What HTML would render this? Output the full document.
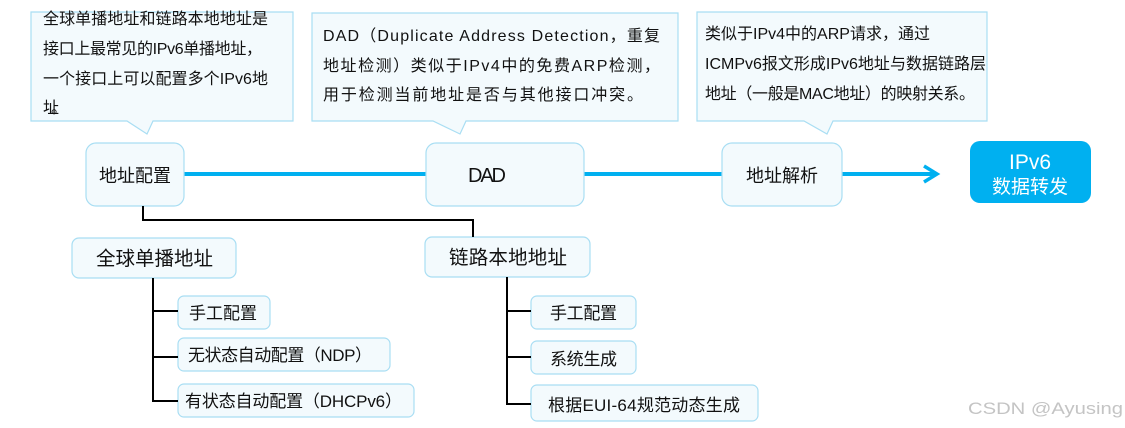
<!DOCTYPE html>
<html><head><meta charset="utf-8"><style>
html,body{margin:0;padding:0;background:#fff;}
svg{display:block;}
text{font-family:"Liberation Sans","Noto Sans CJK SC",sans-serif;fill:#111;}
</style></head><body>
<svg width="1125" height="428" viewBox="0 0 1125 428" xmlns="http://www.w3.org/2000/svg">
<g fill="#f3fafd" stroke="#a9def3" stroke-width="1.2">
<path d="M31 12 H293 V121 H153 L147 134 L127 121 H31 Z"/>
<path d="M312 13 H678 V121 H466 L460 134 L433 121 H312 Z"/>
<path d="M697 12 H987 V121 H833 L827 134 L804 121 H697 Z"/>
</g>
<g font-size="16" lengthAdjust="spacingAndGlyphs">
<text x="43" y="24" textLength="225">全球单播地址和链路本地地址是</text>
<text x="43" y="54" textLength="219">接口上最常见的IPv6单播地址，</text>
<text x="43" y="84" textLength="225">一个接口上可以配置多个IPv6地</text>
<text x="43" y="113" textLength="24">址。</text>
<text x="323" y="41" textLength="337">DAD（Duplicate Address Detection，重复</text>
<text x="323" y="71" textLength="337">地址检测）类似于IPv4中的免费ARP检测，</text>
<text x="323" y="100" textLength="320">用于检测当前地址是否与其他接口冲突。</text>
<text x="705" y="39" textLength="225">类似于IPv4中的ARP请求，通过</text>
<text x="705" y="69" textLength="281">ICMPv6报文形成IPv6地址与数据链路层</text>
<text x="705" y="99" textLength="270">地址（一般是MAC地址）的映射关系。</text>
</g>
<g stroke="#00b0f0" stroke-width="4" fill="none">
<line x1="184" y1="174" x2="426" y2="174"/>
<line x1="584" y1="174" x2="722" y2="174"/>
<line x1="842" y1="174" x2="936" y2="174"/>
<polyline points="924,166 937,174 924,182" stroke-width="3.5"/>
</g>
<g fill="#f3fafd" stroke="#a9def3" stroke-width="1.2">
<rect x="86" y="143" width="98" height="63" rx="10"/>
<rect x="426" y="143" width="158" height="63" rx="10"/>
<rect x="722" y="143" width="120" height="63" rx="10"/>
<rect x="72" y="238" width="164" height="40" rx="7"/>
<rect x="425" y="237" width="165" height="40" rx="7"/>
<rect x="178" y="296" width="92" height="33" rx="6"/>
<rect x="178" y="338" width="212" height="33" rx="6"/>
<rect x="178" y="384" width="236" height="33" rx="6"/>
<rect x="531" y="296" width="105" height="33" rx="6"/>
<rect x="531" y="341" width="105" height="33" rx="6"/>
<rect x="531" y="385" width="227" height="36" rx="6"/>
</g>
<rect x="970" y="141" width="121" height="62" rx="10" fill="#00b0f0"/>
<text x="1030" y="169" font-size="21" text-anchor="middle" style="fill:#fff">IPv6</text>
<text x="1030" y="193" font-size="19" text-anchor="middle" style="fill:#fff">数据转发</text>
<g lengthAdjust="spacingAndGlyphs">
<text x="99" y="182" font-size="18" textLength="72">地址配置</text>
<text x="468" y="182" font-size="20" textLength="38">DAD</text>
<text x="746" y="182" font-size="18" textLength="72">地址解析</text>
<text x="96" y="265" font-size="19.5" textLength="117">全球单播地址</text>
<text x="449" y="264" font-size="19.5" textLength="118">链路本地地址</text>
</g>
<g font-size="17" lengthAdjust="spacingAndGlyphs">
<text x="189" y="319" textLength="68">手工配置</text>
<text x="188" y="361" textLength="184">无状态自动配置（NDP）</text>
<text x="185" y="407" textLength="217">有状态自动配置（DHCPv6）</text>
<text x="550" y="319" textLength="67">手工配置</text>
<text x="550" y="365" textLength="67">系统生成</text>
<text x="548" y="411" textLength="192">根据EUI-64规范动态生成</text>
</g>
<g stroke="#000" stroke-width="2" fill="none">
<polyline points="143,206 143,220 473,220 473,237"/>
<polyline points="153,278 153,401 178,401"/>
<line x1="153" y1="311" x2="178" y2="311"/>
<line x1="153" y1="357" x2="178" y2="357"/>
<polyline points="507,277 507,404 531,404"/>
<line x1="507" y1="311" x2="531" y2="311"/>
<line x1="507" y1="357" x2="531" y2="357"/>
</g>
<text x="968" y="414" font-size="17" textLength="155" lengthAdjust="spacingAndGlyphs" style="fill:#c4c4c4">CSDN @Ayusing</text>
</svg>
</body></html>
